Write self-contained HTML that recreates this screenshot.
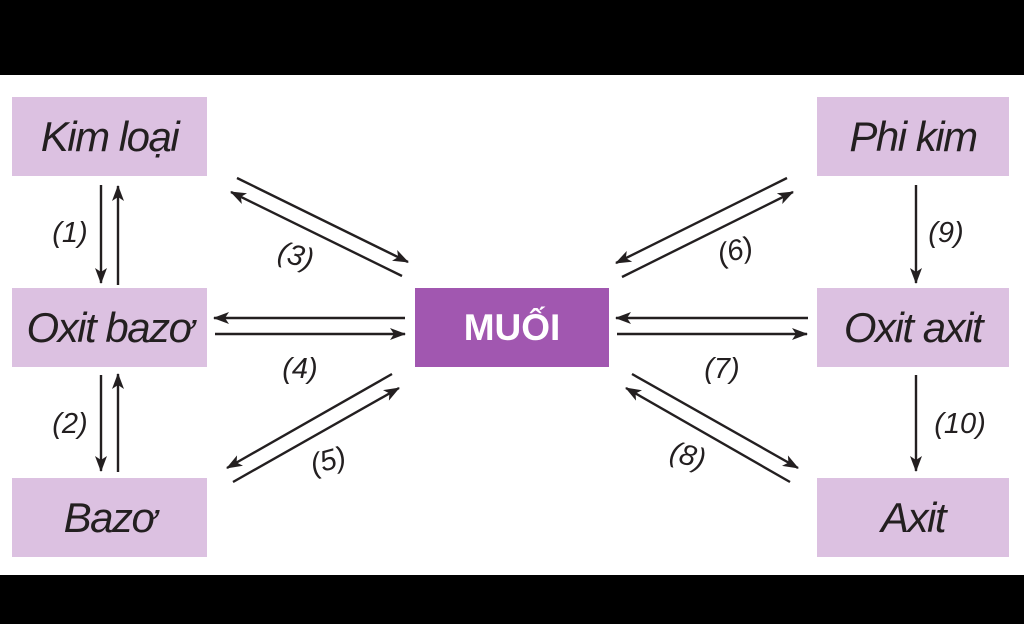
<!DOCTYPE html>
<html><head><meta charset="utf-8"><style>
html,body{margin:0;padding:0;background:#000;}
body{width:1024px;height:624px;position:relative;overflow:hidden;font-family:"Liberation Sans",sans-serif;}
.w{position:absolute;left:0;top:75px;width:1024px;height:500px;background:#fff;}
.b{position:absolute;background:#dcc1e1;color:#231f20;font-style:italic;font-size:42px;display:flex;align-items:center;justify-content:center;letter-spacing:-1.5px;}
</style></head><body>
<div class="w"></div>
<div class="b" style="left:12px;top:97px;width:195px;height:79px">Kim loại</div>
<div class="b" style="left:12px;top:288px;width:195px;height:79px">Oxit bazơ</div>
<div class="b" style="left:12px;top:478px;width:195px;height:79px">Bazơ</div>
<div class="b" style="left:817px;top:97px;width:192px;height:79px">Phi kim</div>
<div class="b" style="left:817px;top:288px;width:192px;height:79px">Oxit axit</div>
<div class="b" style="left:817px;top:478px;width:192px;height:79px">Axit</div>
<div class="b" style="left:415px;top:288px;width:194px;height:79px;background:#a157b0;color:#fff;font-style:normal;font-weight:bold;font-size:37px;letter-spacing:0">MUỐI</div>
<svg width="1024" height="624" style="position:absolute;left:0;top:0">
<defs><marker id="a" viewBox="0 0 16 12" refX="15" refY="6" markerWidth="16" markerHeight="12" markerUnits="userSpaceOnUse" orient="auto"><path d="M0,0 L16,6 L0,12 L4,6z" fill="#231f20"/></marker></defs>
<g stroke="#231f20" stroke-width="2.4" marker-end="url(#a)">
<line x1="101" y1="185" x2="101" y2="283"/><line x1="118" y1="285" x2="118" y2="186"/>
<line x1="101" y1="375" x2="101" y2="471"/><line x1="118" y1="472" x2="118" y2="374"/>
<line x1="237" y1="178" x2="408" y2="262"/><line x1="402" y1="276" x2="231" y2="192"/>
<line x1="405" y1="318" x2="214" y2="318"/><line x1="215" y1="334" x2="405" y2="334"/>
<line x1="392" y1="374" x2="227" y2="468"/><line x1="233" y1="482" x2="399" y2="388"/>
<line x1="787" y1="178" x2="616" y2="263"/><line x1="622" y1="277" x2="793" y2="192"/>
<line x1="808" y1="318" x2="616" y2="318"/><line x1="617" y1="334" x2="807" y2="334"/>
<line x1="632" y1="374" x2="798" y2="468"/><line x1="790" y1="482" x2="626" y2="388"/>
<line x1="916" y1="185" x2="916" y2="283"/><line x1="916" y1="375" x2="916" y2="471"/>
</g>
<g font-family="Liberation Sans,sans-serif" font-style="italic" font-size="29" fill="#231f20" text-anchor="middle">
<text x="70" y="242">(1)</text><text x="70" y="433">(2)</text>
<text x="296" y="265" transform="rotate(15 296 255)">(3)</text>
<text x="300" y="378">(4)</text>
<text x="328" y="470" transform="rotate(-15 328 460)">(5)</text>
<text x="735" y="260" transform="rotate(-15 735 250)">(6)</text>
<text x="722" y="378">(7)</text>
<text x="688" y="465" transform="rotate(15 688 455)">(8)</text>
<text x="946" y="242">(9)</text><text x="960" y="433">(10)</text>
</g>
</svg>
</body></html>
